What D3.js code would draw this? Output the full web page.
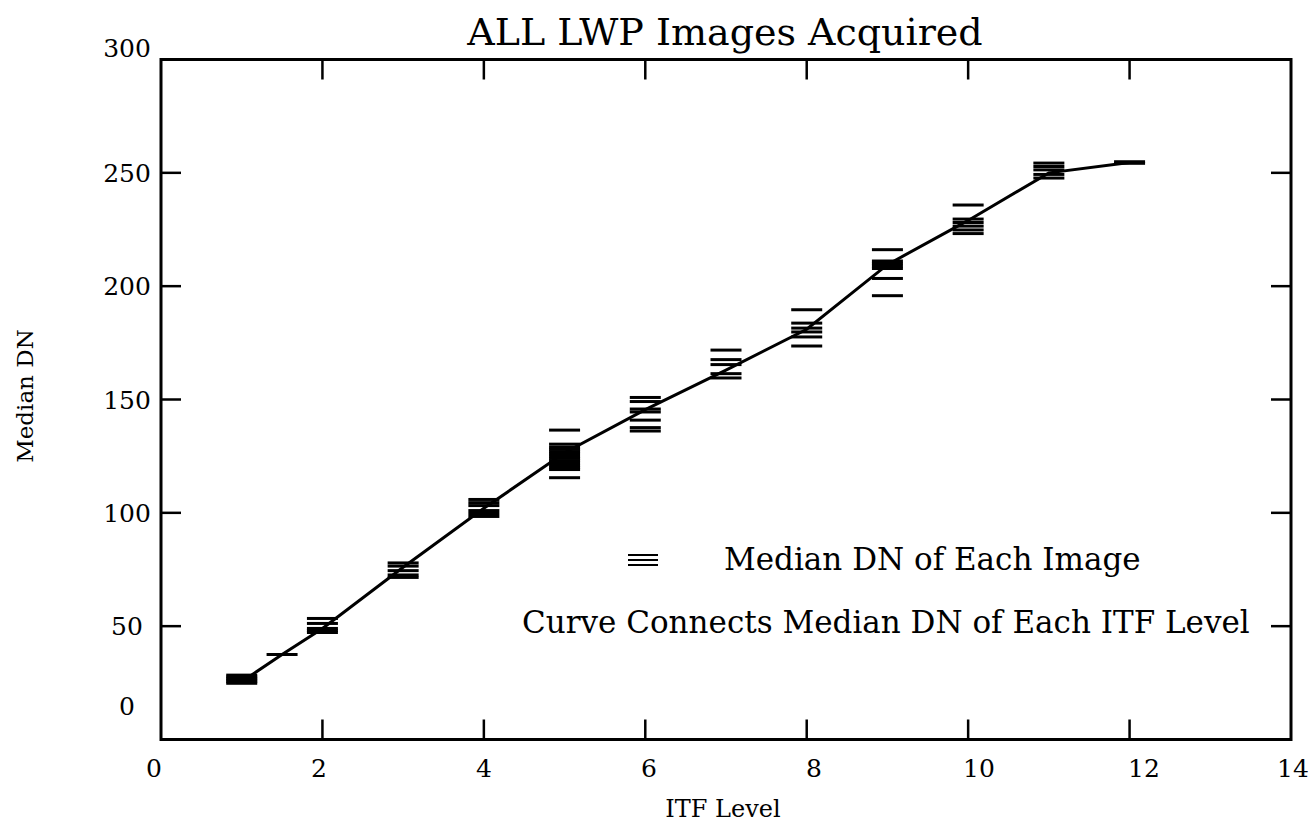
<!DOCTYPE html>
<html>
<head>
<meta charset="utf-8">
<script src="https://cdn.jsdelivr.net/npm/d3@7"></script>
<style>
  html, body { margin: 0; padding: 0; background: #fff; }
  svg { display: block; }
  text { font-family: "DejaVu Serif", "Liberation Serif", serif; fill: #000; }
</style>
</head>
<body>
<svg id="chart" width="1311" height="827"></svg>
<script>
// ITF levels at which images were taken
const itfLevels = [1, 1.5, 2, 3, 4, 5, 6, 7, 8, 9, 10, 11, 12];

// Median DN of every image, grouped by ITF level (same order as itfLevels)
const imageMedians = [
  [24.8, 25.5, 26.2, 26.9, 27.6, 28.4],
  [37.5],
  [47.2, 48.1, 49.0, 51.2, 53.4],
  [71.5, 72.6, 74.5, 76.5, 77.9],
  [98.4, 99.7, 101.0, 103.2, 104.5, 105.9],
  [115.5, 119.1, 120, 121, 122, 123, 124, 125, 126, 127, 128, 129, 130.3, 136.5],
  [136.1, 137.6, 140.9, 144.5, 145.8, 149.1, 150.9],
  [159.5, 161.4, 165.4, 167.6, 171.8],
  [173.6, 177.6, 179.8, 181.5, 183.7, 189.6],
  [195.8, 203.4, 207.8, 208.9, 210.0, 211.1, 216.1],
  [223.2, 224.8, 226.5, 228.1, 229.6, 235.8],
  [247.7, 249.3, 251.3, 252.8, 254.3],
  [254.2, 254.9]
];

// Median DN of each ITF level (the connecting curve)
const curveLevels  = [1, 1.5, 2, 3, 4, 5, 6, 7, 8, 9, 10, 11, 12];
const curveMedians = [25.5, 37.5, 49, 76, 102, 126.5, 145.5, 163, 181, 209.5, 229, 250, 254.6];

// Axis ticks
const xTicks = [0, 2, 4, 6, 8, 10, 12, 14];
const yTicks = [0, 50, 100, 150, 200, 250, 300];

const titleText  = "ALL LWP Images Acquired";
const xTitleText = "ITF Level";
const yTitleText = "Median DN";
const legendMarkerText = "Median DN of Each Image";
const legendCurveText  = "Curve Connects Median DN of Each ITF Level";

// ---- layout ----
const svg = d3.select("#chart");
const plotLeft = 161, plotRight = 1291, plotTop = 59.5, plotBottom = 739.5;

const x = d3.scaleLinear().domain([0, 14]).range([plotLeft, plotRight]);
const y = d3.scaleLinear().domain([0, 300]).range([plotBottom, plotTop]);
// tick labels sit on a slightly wider spread than the tick marks
const xLabel = d3.scaleLinear().domain([0, 14]).range([154, 1309]);

const tickLen = 20;
const barHalf = 15.5;

// frame
svg.append("rect")
  .attr("x", plotLeft).attr("y", plotTop)
  .attr("width", plotRight - plotLeft).attr("height", plotBottom - plotTop)
  .attr("fill", "none").attr("stroke", "#000").attr("stroke-width", 3);

// inward ticks on all four sides
const innerX = xTicks.filter(v => v > 0 && v < 14);
const innerY = yTicks.filter(v => v > 0 && v < 300);
const ticks = svg.append("g").attr("stroke", "#000").attr("stroke-width", 2.5);
innerX.forEach(v => {
  ticks.append("line").attr("x1", x(v)).attr("x2", x(v)).attr("y1", plotBottom).attr("y2", plotBottom - tickLen);
  ticks.append("line").attr("x1", x(v)).attr("x2", x(v)).attr("y1", plotTop).attr("y2", plotTop + tickLen);
});
innerY.forEach(v => {
  ticks.append("line").attr("y1", y(v)).attr("y2", y(v)).attr("x1", plotLeft).attr("x2", plotLeft + tickLen);
  ticks.append("line").attr("y1", y(v)).attr("y2", y(v)).attr("x1", plotRight).attr("x2", plotRight - tickLen);
});

// tick labels
svg.append("g").selectAll("text").data(xTicks).join("text")
  .attr("x", d => d === 14 ? 1293 : xLabel(d))
  .attr("y", 777)
  .attr("text-anchor", "middle")
  .attr("font-size", 25)
  .text(d => d);

svg.append("g").selectAll("text").data(yTicks).join("text")
  .attr("x", 127)
  .attr("y", d => y(d) + 9 + (d === 0 ? -34 : d === 300 ? -12 : 0))
  .attr("text-anchor", "middle")
  .attr("font-size", 25)
  .text(d => d);

// titles
svg.append("text").attr("x", 725).attr("y", 45)
  .attr("text-anchor", "middle").attr("font-size", 38).text(titleText);
svg.append("text").attr("x", 723).attr("y", 817)
  .attr("text-anchor", "middle").attr("font-size", 24).text(xTitleText);
svg.append("text")
  .attr("transform", "translate(33,396) rotate(-90)")
  .attr("text-anchor", "middle").attr("font-size", 23).text(yTitleText);

// curve through the level medians
const line = d3.line().x(d => x(d[0])).y(d => y(d[1]));
svg.append("path")
  .datum(curveLevels.map((lv, i) => [lv, curveMedians[i]]))
  .attr("d", line)
  .attr("fill", "none").attr("stroke", "#000").attr("stroke-width", 3);

// one short horizontal bar per image
const bars = itfLevels.flatMap((lv, i) => imageMedians[i].map(v => ({ lv, v })));
svg.append("g").selectAll("line").data(bars).join("line")
  .attr("x1", d => x(d.lv) - barHalf)
  .attr("x2", d => x(d.lv) + barHalf)
  .attr("y1", d => y(d.v)).attr("y2", d => y(d.v))
  .attr("stroke", "#000").attr("stroke-width", 3);

// legend
const lg = svg.append("g");
[-5, 0, 5].forEach(off => {
  lg.append("line").attr("x1", 628).attr("x2", 658)
    .attr("y1", 560 + off).attr("y2", 560 + off)
    .attr("stroke", "#000").attr("stroke-width", 2);
});
lg.append("text").attr("x", 724).attr("y", 570).attr("font-size", 31).text(legendMarkerText);
lg.append("text").attr("x", 522).attr("y", 633).attr("font-size", 31).text(legendCurveText);
</script>
</body>
</html>
